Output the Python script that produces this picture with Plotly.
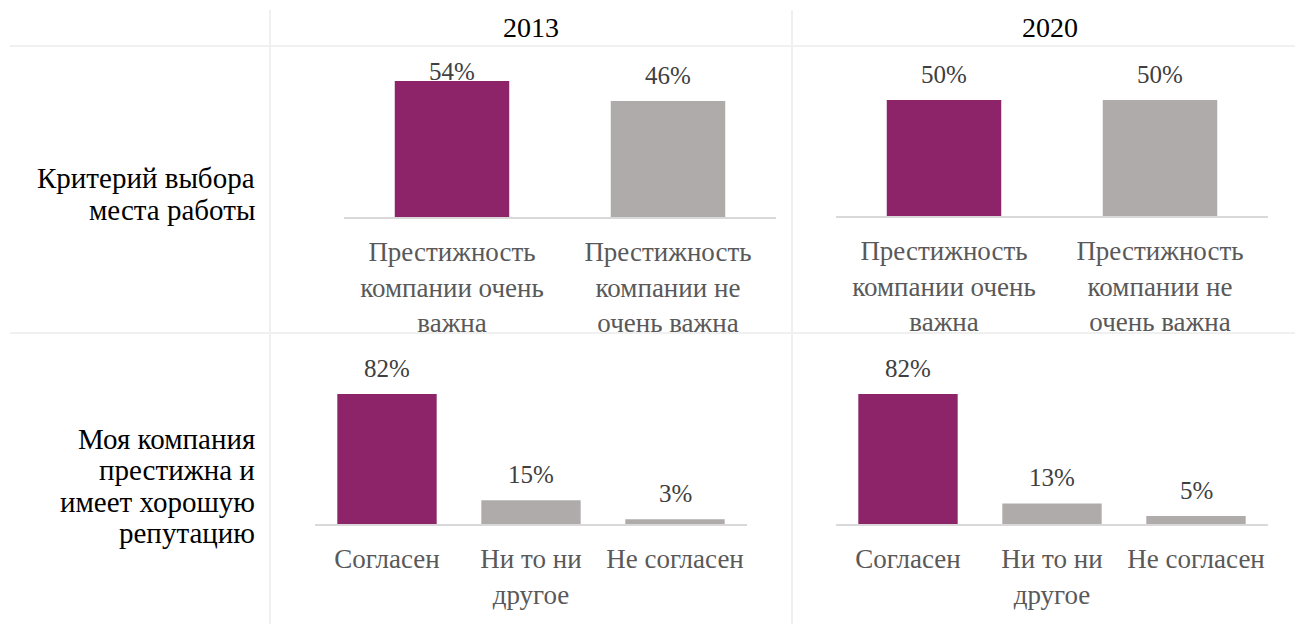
import plotly.graph_objects as go

# ---- data ----
years = ["2013", "2020"]
row_labels = ["Критерий выбора<br>места работы",
              "Моя компания<br>престижна и<br>имеет хорошую<br>репутацию"]
cats_top = ["Престижность<br>компании очень<br>важна",
            "Престижность<br>компании не<br>очень важна"]
cats_bottom = ["Согласен", "Ни то ни<br>другое", "Не согласен"]
top_2013 = [54, 46]
top_2020 = [50, 50]
bottom_2013 = [82, 15, 3]
bottom_2020 = [82, 13, 5]

# ---- style ----
OFF = 8  # page body margin of the browser
W, H = 1303 - OFF, 624 - OFF
FONT = "Liberation Serif, serif"
PURPLE = "#8D2368"
GRAY = "#AFABAB"
GRID = "#F0F0F0"
AXIS = "#D9D9D9"
FS_CAT = 27
FS_VAL = 25
FS_ROW = 29
FS_HEAD = 28


def fx(x):
    return (x - OFF) / W


def fy(y):
    return 1 - (y - OFF) / H


panels = [
    dict(cats=cats_top, vals=top_2013, x0=344, x1=776, base=217, top=46, scale=2.52, width=0.53, clamp=72),
    dict(cats=cats_top, vals=top_2020, x0=836, x1=1268, base=216, top=46, scale=2.32, width=0.53, clamp=72),
    dict(cats=cats_bottom, vals=bottom_2013, x0=315, x1=747, base=524, top=333, scale=1.585, width=0.69, clamp=350),
    dict(cats=cats_bottom, vals=bottom_2020, x0=836, x1=1268, base=524, top=333, scale=1.585, width=0.69, clamp=350),
]

fig = go.Figure()
layout = dict(
    width=W, height=H,
    margin=dict(l=0, r=0, t=0, b=0),
    paper_bgcolor="white", plot_bgcolor="white",
    showlegend=False,
    font=dict(family=FONT, size=FS_CAT, color="#595959"),
)
annotations = []

for i, p in enumerate(panels):
    n = i + 1
    xa = "x" if n == 1 else f"x{n}"
    ya = "y" if n == 1 else f"y{n}"
    colors = [PURPLE] + [GRAY] * (len(p["vals"]) - 1)
    fig.add_trace(go.Bar(
        x=p["cats"], y=p["vals"], xaxis=xa, yaxis=ya,
        marker=dict(color=colors, line=dict(width=0)),
        width=[p["width"]] * len(p["vals"]),
        hoverinfo="skip",
    ))
    ymax = (p["base"] - p["top"]) / p["scale"]
    layout[f"xaxis{'' if n == 1 else n}"] = dict(
        domain=[fx(p["x0"]), fx(p["x1"])], anchor=ya,
        type="category", range=[-0.5, len(p["cats"]) - 0.5],
        showline=True, linecolor=AXIS, linewidth=2,
        showgrid=False, zeroline=False, ticks="",
        ticklabelstandoff=10,
        tickfont=dict(family=FONT, size=FS_CAT, color="#595959"),
        fixedrange=True,
    )
    layout[f"yaxis{'' if n == 1 else n}"] = dict(
        domain=[fy(p["base"]), fy(p["top"])], anchor=xa,
        range=[0, ymax], showgrid=False, zeroline=False,
        showticklabels=False, showline=False, fixedrange=True,
    )
    for c, v in zip(p["cats"], p["vals"]):
        bar_top_px = p["base"] - v * p["scale"]
        center_px = max(bar_top_px - 26, p["clamp"])
        yval = (p["base"] - center_px) / p["scale"]
        annotations.append(dict(
            x=c, y=yval, xref=xa, yref=ya, text=f"{v}%", showarrow=False,
            xanchor="center", yanchor="middle",
            font=dict(family=FONT, size=FS_VAL, color="#404040"),
        ))

# column headers
for yr, cx in zip(years, [531, 1050]):
    annotations.append(dict(
        x=fx(cx), y=fy(28), xref="paper", yref="paper", text=yr,
        showarrow=False, xanchor="center", yanchor="middle",
        font=dict(family=FONT, size=FS_HEAD, color="#000000"),
    ))

# row labels (one annotation per line to get Excel-like tight line spacing)
LINE = 31.5
for lbl, cy in zip(row_labels, [194, 486]):
    lines = lbl.split("<br>")
    y_first = cy - LINE * (len(lines) - 1) / 2
    for k, line in enumerate(lines):
        annotations.append(dict(
            x=fx(257), y=fy(y_first + k * LINE), xref="paper", yref="paper", text=line,
            showarrow=False, xanchor="right", yanchor="middle", align="right",
            font=dict(family=FONT, size=FS_ROW, color="#000000"),
        ))

shapes = []
for yy in [46, 333]:
    shapes.append(dict(type="line", xref="paper", yref="paper",
                       x0=fx(10), x1=1, y0=fy(yy), y1=fy(yy),
                       line=dict(color=GRID, width=2), layer="below"))
for xx in [270, 792]:
    shapes.append(dict(type="line", xref="paper", yref="paper",
                       x0=fx(xx), x1=fx(xx), y0=fy(10), y1=0,
                       line=dict(color=GRID, width=2), layer="below"))

layout["annotations"] = annotations
layout["shapes"] = shapes
fig.update_layout(**layout)
fig.write_html("out.html", config={"displayModeBar": False})
